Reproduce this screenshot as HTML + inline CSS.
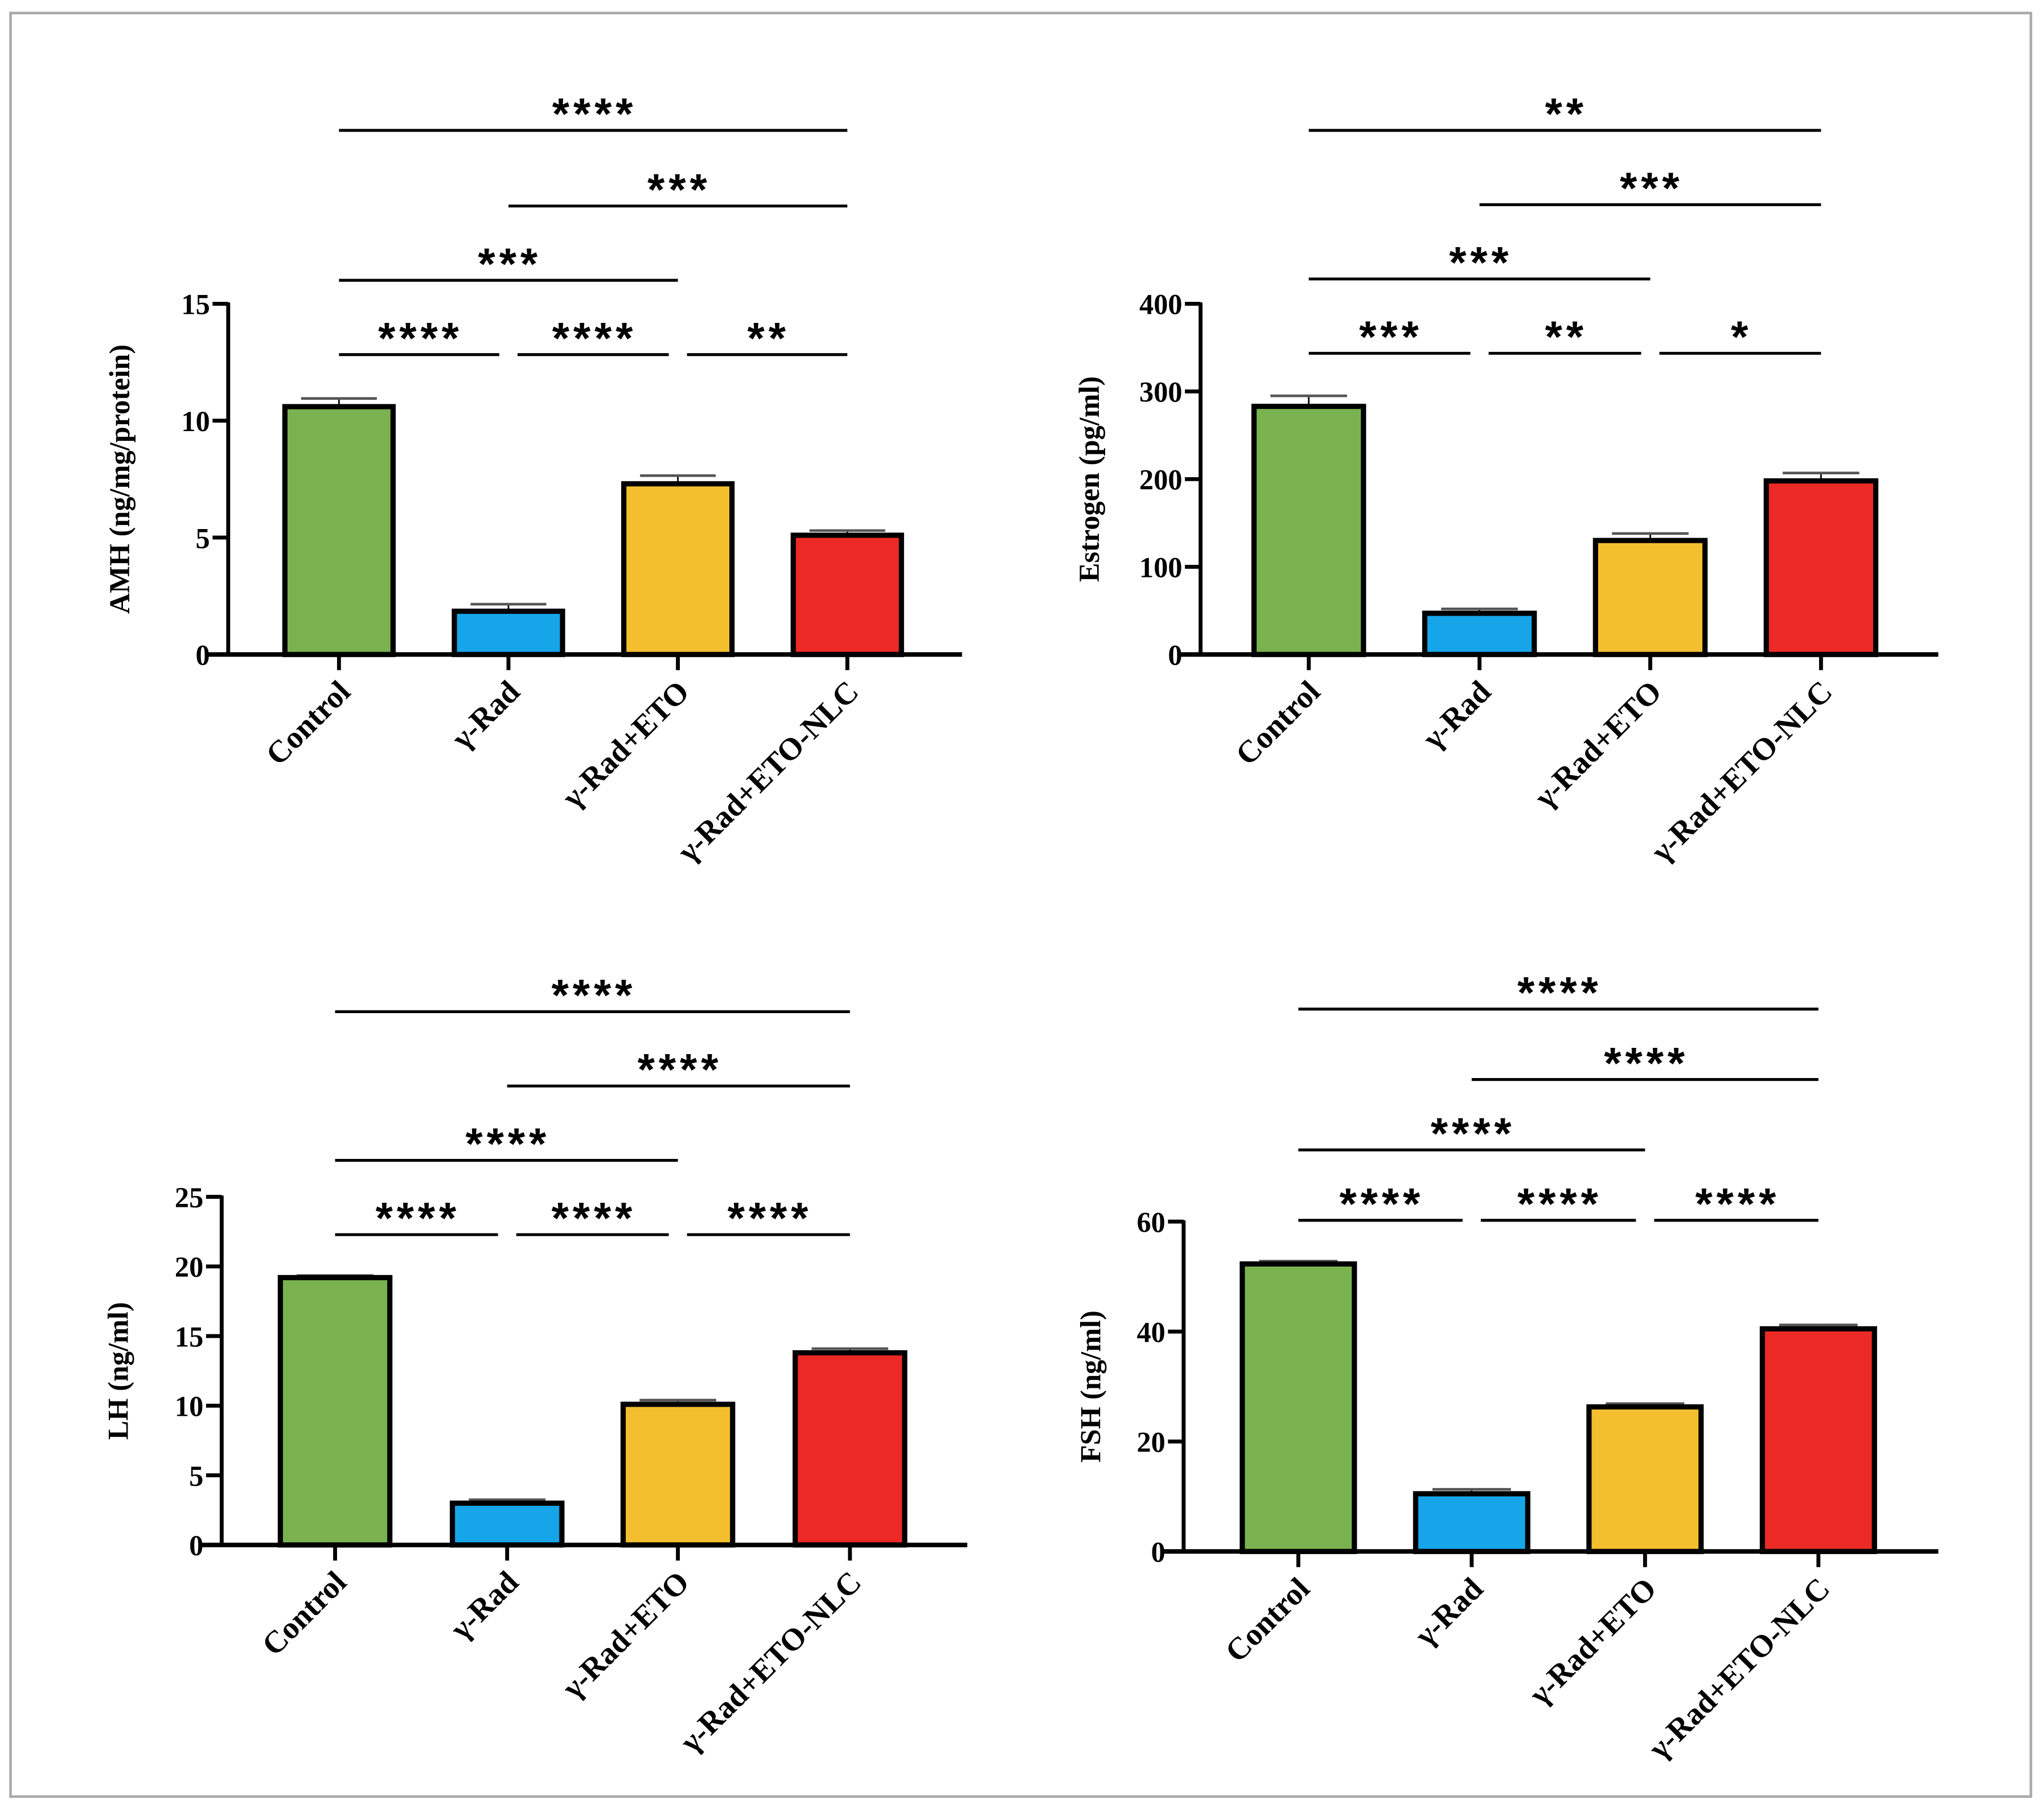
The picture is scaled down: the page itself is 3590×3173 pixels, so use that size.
<!DOCTYPE html>
<html><head><meta charset="utf-8">
<style>
html,body{margin:0;padding:0;background:#fff;}
svg{display:block;}
text{font-family:"Liberation Serif",serif;font-weight:bold;fill:#000;}
.star{font-family:"Liberation Sans",sans-serif;}
</style></head>
<body>
<svg id="fig" width="3590" height="3173" viewBox="0 0 1568 1386" xmlns="http://www.w3.org/2000/svg">
<rect x="8" y="10" width="1550" height="1368" fill="#fff" stroke="#aaa" stroke-width="2"/>
</svg>
<script>
const categories = ["Control","γ-Rad","γ-Rad+ETO","γ-Rad+ETO-NLC"];
const colors = ["#7ab24f","#17a5e9","#f4bf2e","#ec2a25"];

const amhValues = [10.6, 1.85, 7.3, 5.1];
const amhErrors = [0.35, 0.3, 0.35, 0.2];
const amhTicks = [0, 5, 10, 15];
const amhSig = [["****",0,3],["***",1,3],["***",0,2],["****",0,1],["****",1,2],["**",2,3]];

const estValues = [283, 47, 130, 198];
const estErrors = [12, 5, 8, 9];
const estTicks = [0, 100, 200, 300, 400];
const estSig = [["**",0,3],["***",1,3],["***",0,2],["***",0,1],["**",1,2],["*",2,3]];

const lhValues = [19.2, 3.0, 10.1, 13.8];
const lhErrors = [0.15, 0.25, 0.3, 0.3];
const lhTicks = [0, 5, 10, 15, 20, 25];
const lhSig = [["****",0,3],["****",1,3],["****",0,2],["****",0,1],["****",1,2],["****",2,3]];

const fshValues = [52.3, 10.5, 26.3, 40.5];
const fshErrors = [0.5, 0.8, 0.6, 0.7];
const fshTicks = [0, 20, 40, 60];
const fshSig = [["****",0,3],["****",1,3],["****",0,2],["****",0,1],["****",1,2],["****",2,3]];

const NS = "http://www.w3.org/2000/svg";
const svg = document.getElementById("fig");
function mk(tag, attrs, parent){
  const e = document.createElementNS(NS, tag);
  for (const k in attrs) e.setAttribute(k, attrs[k]);
  (parent||svg).appendChild(e);
  return e;
}

function panel(cfg){
  const g = mk("g", {});
  
  
  const ymax = cfg.ticks[cfg.ticks.length-1];
  const Y = v => cfg.y0 - (v/ymax)*(cfg.y0-cfg.y1);
  const X = i => cfg.xs[i];
  cfg.values.forEach((v,i)=>{
    const top = Y(v), et = Y(v+cfg.errors[i]);
    const eb = mk("line",{x1:X(i),x2:X(i),y1:top,y2:et,stroke:"#000","stroke-width":1.2},g);
    
    
    const ec = mk("line",{x1:X(i)-cfg.bw*0.35,x2:X(i)+cfg.bw*0.35,y1:et,y2:et,stroke:"#555","stroke-width":2},g);
    
    
    const r = mk("rect",{x:X(i)-cfg.bw/2,y:top,width:cfg.bw,height:cfg.y0-top,fill:colors[i],stroke:"#000","stroke-width":4},g);
    
    
  });
  const ya = mk("line",{x1:cfg.ax,x2:cfg.ax,y1:cfg.y1-1,y2:cfg.y0+1.5,stroke:"#000","stroke-width":3},g);
  
  
  cfg.ticks.forEach(t=>{
    mk("line",{x1:cfg.ax-12,x2:cfg.ax,y1:Y(t),y2:Y(t),stroke:"#000","stroke-width":3},g);
    const tl = mk("text",{x:cfg.ax-14,y:Y(t)+8,"text-anchor":"end","font-size":22},g);
    tl.textContent = t;
    
    
  });
  const xa = mk("line",{x1:cfg.ax-15,x2:cfg.xend,y1:cfg.y0,y2:cfg.y0,stroke:"#000","stroke-width":3.5},g);
  
  
  categories.forEach((c,i)=>{
    mk("line",{x1:X(i),x2:X(i),y1:cfg.y0,y2:cfg.y0+12,stroke:"#000","stroke-width":3},g);
    const tx = X(i)+10, ty = cfg.y0+30;
    const cl = mk("text",{x:tx,y:ty,"text-anchor":"end","font-size":24,transform:`rotate(-45 ${tx} ${ty})`},g);
    cl.textContent = c;
    
    
  });
  const tx = cfg.titleX, ty = (cfg.y0+cfg.y1)/2;
  const yt = mk("text",{x:tx,y:ty,"text-anchor":"middle","font-size":22,transform:`rotate(-90 ${tx} ${ty})`},g);
  yt.textContent = cfg.title;
  
  
  cfg.sig.forEach((s,k)=>{
    const ly = cfg.sigY[k];
    let x1 = X(s[1]), x2 = X(s[2]);
    if (k>=3){ if (s[1]>0) x1 += 7; if (s[2]<3) x2 -= 7; }
    const l = mk("line",{x1:x1,x2:x2,y1:ly,y2:ly,stroke:"#000","stroke-width":2.2},g);
    
    
    const st = mk("text",{x:(x1+x2)/2+1,y:ly-1,"text-anchor":"middle","font-size":34,"letter-spacing":"3",class:"star"},g);
    st.textContent = s[0];
    
    
  });
}

panel({name:"amh-panel",values:amhValues,errors:amhErrors,ticks:amhTicks,sig:amhSig,title:"AMH (ng/mg/protein)",
  ax:175,y0:502,y1:233,xend:738,xs:[260,390,520,650],bw:83,titleX:99,sigY:[100,158,215,272,272,272]});
panel({name:"estrogen-panel",values:estValues,errors:estErrors,ticks:estTicks,sig:estSig,title:"Estrogen (pg/ml)",
  ax:921,y0:502,y1:233,xend:1487,xs:[1004,1135,1266,1397],bw:84,titleX:843,sigY:[100,157,214,271,271,271]});
panel({name:"lh-panel",values:lhValues,errors:lhErrors,ticks:lhTicks,sig:lhSig,title:"LH (ng/ml)",
  ax:170,y0:1185,y1:918,xend:742,xs:[257,389,520,652],bw:84,titleX:98,sigY:[776,833,890,947,947,947]});
panel({name:"fsh-panel",values:fshValues,errors:fshErrors,ticks:fshTicks,sig:fshSig,title:"FSH (ng/ml)",
  ax:908,y0:1190,y1:937,xend:1487,xs:[996,1129,1262,1395],bw:86,titleX:844,sigY:[774,828,882,936,936,936]});
</script>
</body></html>
